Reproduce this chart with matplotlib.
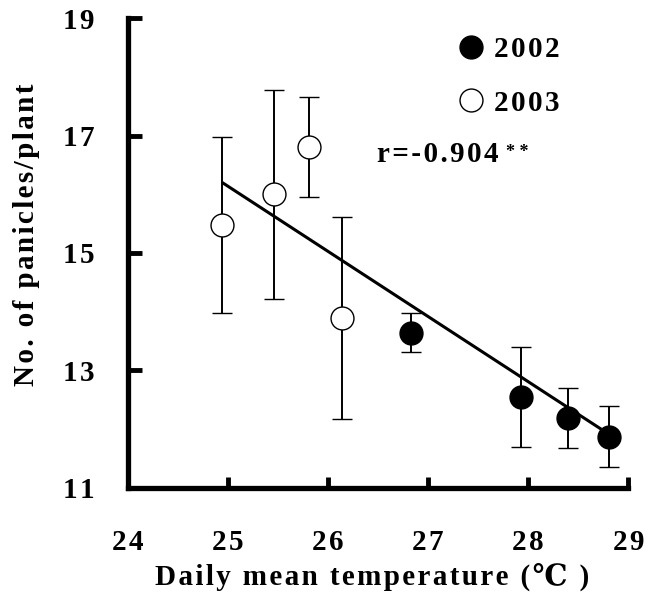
import matplotlib
matplotlib.use('Agg')
import matplotlib.pyplot as plt
from matplotlib.lines import Line2D

# data
temp_2002 = [26.83, 27.93, 28.40, 28.81]
pan_2002 = [13.64, 12.55, 12.19, 11.87]
err_2002 = [0.33, 0.85, 0.51, 0.52]

temp_2003 = [24.94, 25.46, 25.81, 26.14]
pan_2003 = [15.48, 16.00, 16.80, 13.89]
err_2003 = [1.50, 1.78, 0.85, 1.72]

fit_x = [24.95, 28.89]
fit_y = [16.19, 11.82]

xticks = [24, 25, 26, 27, 28, 29]
yticks = [11, 13, 15, 17, 19]

serif = ['Liberation Serif', 'DejaVu Serif']
plt.rcParams['font.family'] = serif
plt.rcParams['font.weight'] = 'bold'
FS = 21


def spaced(s):
    # the original text has loose letter spacing
    return '\u200a'.join(s)


fig = plt.figure(figsize=(6.6, 6.03), dpi=100)
ax = fig.add_axes([0.194, 0.191, 0.758, 0.779])

ax.plot(fit_x, fit_y, color='black', lw=2.2, zorder=2)

ax.errorbar(temp_2003, pan_2003, yerr=err_2003, fmt='o', ms=16.5, mfc='white',
            mec='black', mew=1.0, ecolor='black', elinewidth=1.4, capsize=7,
            capthick=1.4, zorder=3)
ax.errorbar(temp_2002, pan_2002, yerr=err_2002, fmt='o', ms=16.5, mfc='black',
            mec='black', mew=1.0, ecolor='black', elinewidth=1.4, capsize=7,
            capthick=1.4, zorder=3)

ax.set_xlim(24, 29)
ax.set_ylim(11, 19)
ax.set_xticks(xticks)
ax.set_yticks(yticks)
ax.set_xticklabels([spaced(str(t)) for t in xticks], fontsize=FS, fontweight='bold')
ax.set_yticklabels([spaced(str(t)) for t in yticks], fontsize=FS, fontweight='bold')

for s in ['top', 'right']:
    ax.spines[s].set_visible(False)
for s in ['left', 'bottom']:
    ax.spines[s].set_linewidth(3.8)
    ax.spines[s].set_capstyle('projecting')

ax.tick_params(axis='x', direction='in', length=8, width=3.5, pad=30)
ax.tick_params(axis='y', direction='in', length=10, width=3.5, pad=24)

fig.text(372 / 660, 1 - 577 / 603, spaced('Daily mean temperature (\u2103 )'),
         fontsize=FS, fontweight='bold', ha='center', va='center')
fig.text(27 / 660, 1 - 235 / 603, spaced('No. of panicles/plant'),
         fontsize=FS, fontweight='bold', ha='center', va='center', rotation=90)

handles = [Line2D([], [], marker='o', ls='', ms=16.5, mfc='black', mec='black'),
           Line2D([], [], marker='o', ls='', ms=16.5, mfc='white', mec='black')]
ax.legend(handles, [spaced('2002'), spaced('2003')], loc='upper left',
          bbox_to_anchor=(0.603, 1.017), frameon=False, handlelength=1.0,
          handletextpad=0.3, labelspacing=0.9,
          prop={'family': serif, 'weight': 'bold', 'size': FS})

rtext = ax.text(26.49, 16.67, spaced('r=-0.904'), fontsize=FS, fontweight='bold',
                va='center')
ax.annotate(' '.join('**'), xy=(1, 0.6), xycoords=rtext, xytext=(5, 0),
            textcoords='offset points', fontsize=13, fontweight='bold',
            va='center', ha='left')

fig.savefig('out.png', dpi=100, facecolor='w')
